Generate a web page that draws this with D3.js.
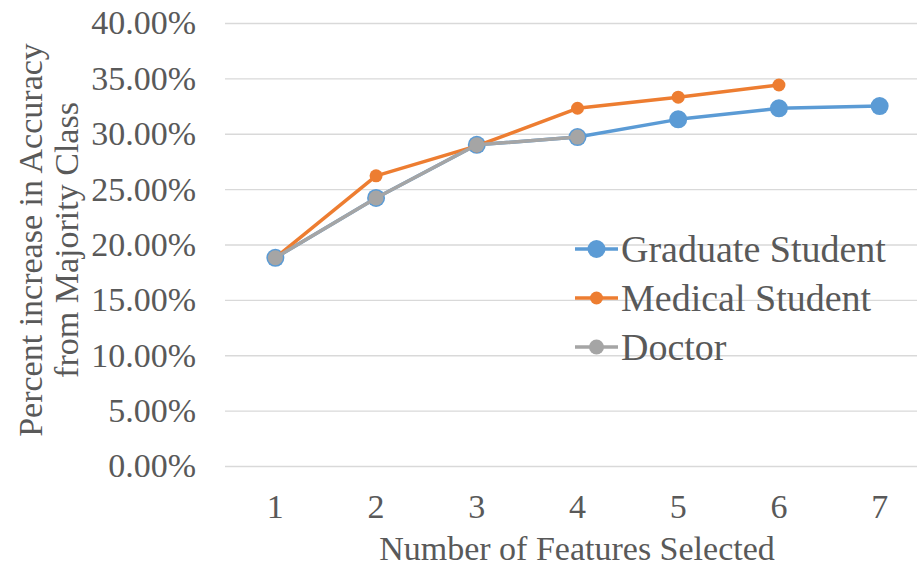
<!DOCTYPE html>
<html>
<head>
<meta charset="utf-8">
<script src="https://cdn.jsdelivr.net/npm/d3@7"></script>
<style>
  html, body { margin: 0; padding: 0; background: #fff; }
</style>
</head>
<body>
<svg id="chart" width="917" height="567"></svg>
<script>
// data
var features = ["1", "2", "3", "4", "5", "6", "7"];
var graduate = [18.8, 24.2, 29.0, 29.7, 31.3, 32.3, 32.5];
var medical  = [18.8, 26.2, 28.9, 32.3, 33.3, 34.4];
var doctor   = [18.8, 24.2, 29.0, 29.7];
var yTicks   = [0, 5, 10, 15, 20, 25, 30, 35, 40];
var seriesNames = ["Graduate Student", "Medical Student", "Doctor"];

var FONT = "'Liberation Serif'";
var TEXT = "#595959";

var svg = d3.select("#chart");

var x = d3.scaleBand().domain(features).range([225, 930]);
var y = d3.scaleLinear().domain([0, 40]).range([466, 23]);

// gridlines + y labels
var yAxis = d3.axisLeft(y)
  .tickValues(yTicks)
  .tickSize(-(930 - 225))
  .tickPadding(29)
  .tickFormat(function(d) { return d.toFixed(2) + "%"; });

var gy = svg.append("g")
  .attr("transform", "translate(225,0)")
  .call(yAxis);
gy.select(".domain").remove();
gy.selectAll(".tick line").attr("stroke", "#d9d9d9").attr("stroke-width", 1.3);
gy.selectAll(".tick text")
  .attr("font-family", FONT)
  .attr("font-size", 34)
  .attr("fill", TEXT);

// x labels
var xAxis = d3.axisBottom(x).tickSize(0).tickPadding(28);
var gx = svg.append("g")
  .attr("transform", "translate(0,466)")
  .call(xAxis);
gx.select(".domain").remove();
gx.selectAll(".tick text")
  .attr("font-family", FONT)
  .attr("font-size", 34)
  .attr("fill", TEXT);

// axis titles
svg.append("text")
  .attr("x", 577).attr("y", 560)
  .attr("text-anchor", "middle")
  .attr("font-family", FONT)
  .attr("font-size", 34)
  .attr("fill", TEXT)
  .text("Number of Features Selected");

var yt = svg.append("text")
  .attr("transform", "translate(0,240) rotate(-90)")
  .attr("text-anchor", "middle")
  .attr("font-family", FONT)
  .attr("font-size", 34)
  .attr("fill", TEXT);
yt.append("tspan").attr("x", 0).attr("y", 42).text("Percent increase in Accuracy");
yt.append("tspan").attr("x", 0).attr("y", 78).text("from Majority Class");

// series
var series = [
  { name: seriesNames[0], values: graduate, color: "#5B9BD5", r: 9 },
  { name: seriesNames[1], values: medical,  color: "#ED7D31", r: 6.5 },
  { name: seriesNames[2], values: doctor,   color: "#A5A5A5", r: 7.5 }
];

var cx = function(i) { return x(features[i]) + x.bandwidth() / 2; };

var line = d3.line()
  .x(function(d, i) { return cx(i); })
  .y(function(d) { return y(d); });

series.forEach(function(s) {
  var g = svg.append("g");
  g.append("path")
    .datum(s.values)
    .attr("fill", "none")
    .attr("stroke", s.color)
    .attr("stroke-width", 3.5)
    .attr("stroke-linejoin", "round")
    .attr("d", line);
  g.selectAll("circle")
    .data(s.values)
    .enter()
    .append("circle")
    .attr("cx", function(d, i) { return cx(i); })
    .attr("cy", function(d) { return y(d); })
    .attr("r", s.r)
    .attr("fill", s.color);
});

// legend
var legend = svg.append("g").attr("transform", "translate(575,249)");
series.forEach(function(s, i) {
  var row = legend.append("g").attr("transform", "translate(0," + (i * 49) + ")");
  row.append("line")
    .attr("x1", 0).attr("x2", 43)
    .attr("y1", 0).attr("y2", 0)
    .attr("stroke", s.color).attr("stroke-width", 3.5);
  row.append("circle")
    .attr("cx", 21.5).attr("cy", 0)
    .attr("r", s.r)
    .attr("fill", s.color);
  row.append("text")
    .attr("x", 46).attr("y", 13)
    .attr("font-family", FONT)
    .attr("font-size", 38)
    .attr("fill", TEXT)
    .text(s.name);
});
</script>
</body>
</html>
